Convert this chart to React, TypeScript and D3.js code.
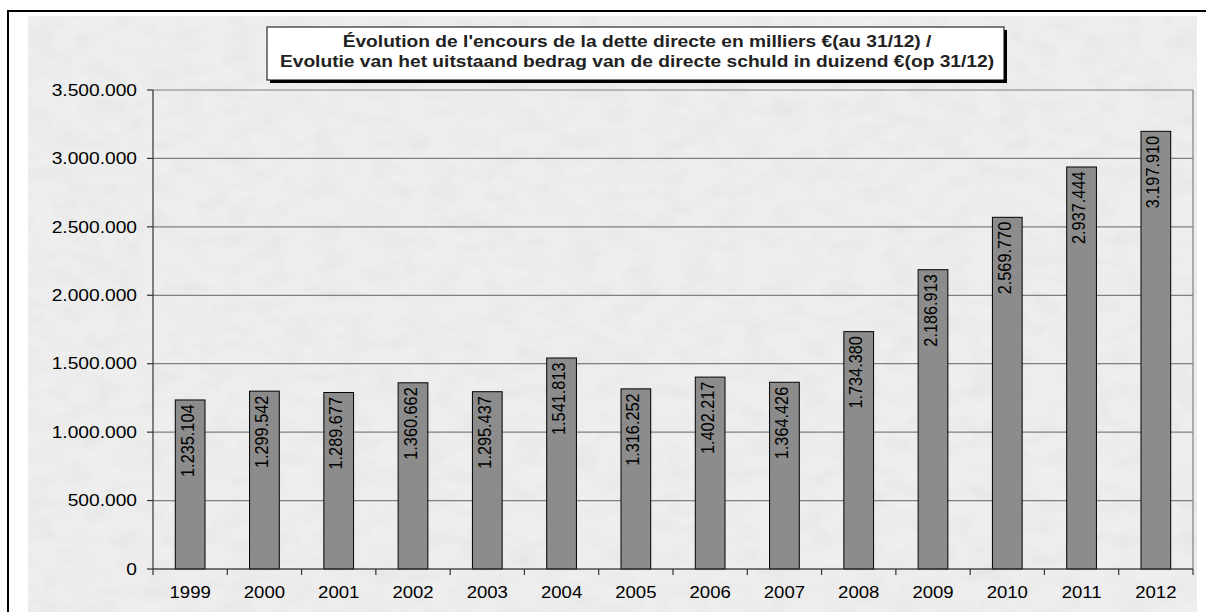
import React from "react";
import * as d3 from "d3";

const years = ["1999","2000","2001","2002","2003","2004","2005","2006","2007","2008","2009","2010","2011","2012"];
const debt = [1235104,1299542,1289677,1360662,1295437,1541813,1316252,1402217,1364426,1734380,2186913,2569770,2937444,3197910];
const yTicks = [0,500000,1000000,1500000,2000000,2500000,3000000,3500000];
const titleLines = [
  "Évolution de l'encours de la dette directe en milliers €(au 31/12) /",
  "Evolutie van het uitstaand bedrag van de directe schuld in duizend €(op 31/12)",
];

const W = 1206, H = 612;
const plot = { left: 153, right: 1193, top: 90, bottom: 569 };
const SX = 1.2;
const FONT = "'Liberation Sans', Arial, sans-serif";

const fmt = (v: number) => (v === 0 ? "0" : d3.format(",")(v).replace(/,/g, "."));

export default function App() {
  const x = d3.scaleBand<string>().domain(years).range([plot.left, plot.right]).paddingInner(0.6).paddingOuter(0.3);
  const y = d3.scaleLinear().domain([0, 3500000]).range([plot.bottom, plot.top]);
  const step = x.step();
  const bounds = d3.range(years.length + 1).map((i) => plot.left + i * step);

  return (
    <svg width={W} height={H} style={{ position: "absolute", left: 0, top: 0, background: "#fff" }} fontFamily={FONT}>
      <defs>
        <filter id="paper" x="0" y="0" width="100%" height="100%">
          <feTurbulence type="fractalNoise" baseFrequency="0.035 0.06" numOctaves={3} seed={4} result="n" />
          <feColorMatrix type="matrix" values="0 0 0 0 0.5  0 0 0 0 0.5  0 0 0 0 0.5  0 0 0 -0.9 0.55" />
        </filter>
      </defs>
      {/* outer frame */}
      <rect x={28} y={16} width={1169} height={H - 16} fill="#eeeeee" />
      <rect x={28} y={16} width={1169} height={H - 16} filter="url(#paper)" opacity={0.3} />
      <line x1={7} x2={W} y1={11} y2={11} stroke="#000" strokeWidth={2} />
      <line x1={8} x2={8} y1={10} y2={H} stroke="#000" strokeWidth={2} />

      {/* gridlines */}
      {yTicks.map((t) => (
        <line key={t} x1={plot.left} x2={plot.right} y1={y(t)} y2={y(t)} stroke="#808080" strokeWidth={1.2} />
      ))}
      <line x1={plot.right} x2={plot.right} y1={plot.top} y2={plot.bottom} stroke="#808080" strokeWidth={1.2} />

      {/* bars */}
      {years.map((yr, i) => (
        <rect key={yr} x={x(yr)} y={y(debt[i])} width={x.bandwidth()} height={plot.bottom - y(debt[i])}
          fill="#8c8c8c" stroke="#000" strokeWidth={1} />
      ))}

      {/* axes */}
      <line x1={plot.left} x2={plot.left} y1={plot.top} y2={plot.bottom} stroke="#333" strokeWidth={1.2} />
      <line x1={plot.left} x2={plot.right} y1={plot.bottom} y2={plot.bottom} stroke="#333" strokeWidth={1.2} />
      {yTicks.map((t) => (
        <g key={"yt" + t}>
          <line x1={plot.left - 6} x2={plot.left} y1={y(t)} y2={y(t)} stroke="#333" strokeWidth={1.2} />
          <text transform={`translate(137,${y(t) + 5.7}) scale(${SX},1)`} textAnchor="end" fontSize={16} fill="#000">{fmt(t)}</text>
        </g>
      ))}
      {bounds.map((bx, i) => (
        <line key={"xt" + i} x1={bx} x2={bx} y1={plot.bottom} y2={plot.bottom + 6} stroke="#333" strokeWidth={1.2} />
      ))}
      {years.map((yr) => (
        <text key={"xl" + yr} transform={`translate(${x(yr)! + x.bandwidth() / 2},598) scale(1.16,1)`} textAnchor="middle" fontSize={16} fill="#000">{yr}</text>
      ))}

      {/* bar labels */}
      {years.map((yr, i) => (
        <text key={"bl" + yr}
          transform={`translate(${x(yr)! + x.bandwidth() / 2 + 3.5},${y(debt[i]) + 4.5}) scale(1.16,1) rotate(-90)`}
          textAnchor="end" fontSize={16.3} fill="#000">{fmt(debt[i])}</text>
      ))}

      {/* title */}
      <rect x={270} y={30} width={737} height={53} fill="#000" />
      <rect x={267} y={27} width={737} height={53} fill="#fff" stroke="#000" strokeWidth={1} />
      {titleLines.map((l, i) => (
        <text key={"t" + i} transform={`translate(637,${47 + i * 19.5}) scale(${SX},1)`} textAnchor="middle" fontSize={16} fontWeight="bold" fill="#222">{l}</text>
      ))}
    </svg>
  );
}
